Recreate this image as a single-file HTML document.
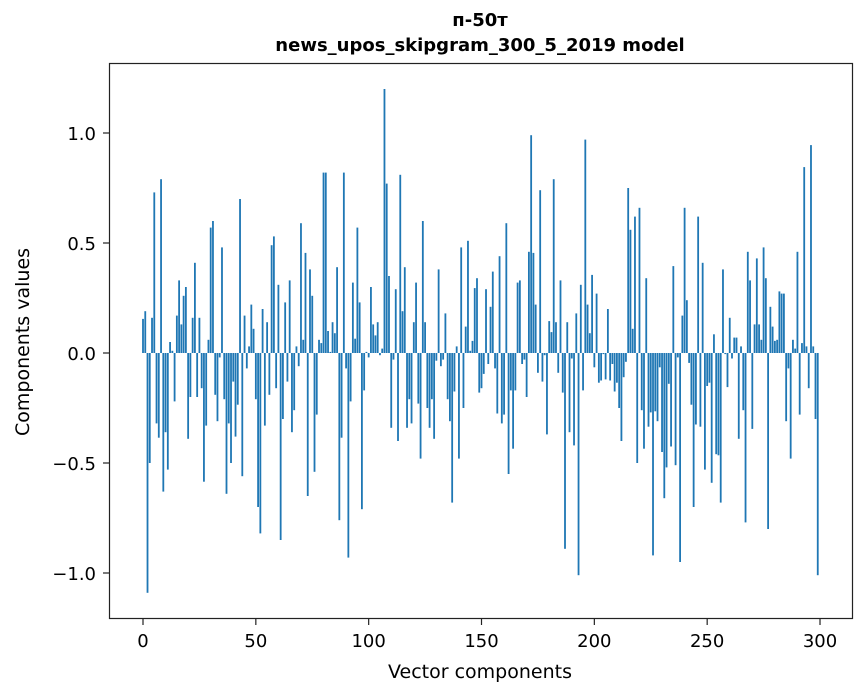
<!DOCTYPE html>
<html><head><meta charset="utf-8"><style>
html,body{margin:0;padding:0;background:#fff;}
svg{display:block;font-family:"DejaVu Sans","Liberation Sans",sans-serif;}
</style></head><body>
<svg id="chart" width="867" height="696" viewBox="0 0 867 696" xmlns="http://www.w3.org/2000/svg">
<rect width="867" height="696" fill="#fff"/>
<text x="480" y="26" font-size="18" font-weight="bold" text-anchor="middle">п-50т</text>
<text x="480" y="51" font-size="18" font-weight="bold" text-anchor="middle">news_upos_skipgram_300_5_2019 model</text>
<g id="bars"></g>
<g id="xticks"></g>
<g id="yticks"></g>
<rect x="109.5" y="63.5" width="743" height="555" fill="none" stroke="#222" stroke-width="1.2"/>
<text x="480" y="678" font-size="19" text-anchor="middle">Vector components</text>
<text transform="translate(29,342) rotate(-90)" font-size="19" text-anchor="middle">Components values</text>
</svg>
<script>
const values = [
0.155,0.19,-1.09,-0.50,0.16,0.73,-0.32,-0.385,0.79,-0.63,
-0.36,-0.53,0.05,0.01,-0.22,0.17,0.33,0.13,0.26,0.30,
-0.39,-0.20,0.16,0.41,-0.20,0.16,-0.16,-0.585,-0.33,0.06,
0.57,0.60,-0.19,-0.31,-0.02,0.48,-0.21,-0.64,-0.32,-0.50,
-0.13,-0.38,-0.235,0.70,-0.56,0.17,-0.07,0.03,0.22,0.11,
-0.21,-0.70,-0.82,0.20,-0.33,0.14,-0.19,0.49,0.53,-0.16,
0.31,-0.85,-0.30,0.23,-0.13,0.33,-0.36,-0.26,0.03,-0.06,
0.59,0.06,0.455,-0.65,0.38,0.26,-0.54,-0.28,0.06,0.045,
0.82,0.82,0.10,0.005,0.14,0.09,0.39,-0.76,-0.385,0.82,
-0.07,-0.93,-0.22,0.32,0.065,0.57,0.23,-0.71,-0.17,0.005,
-0.02,0.30,0.13,0.08,0.14,-0.01,0.02,1.20,0.77,0.35,
-0.34,-0.03,0.29,-0.40,0.81,0.19,0.39,-0.34,-0.21,-0.32,
0.14,0.32,-0.23,-0.48,0.60,0.14,-0.25,-0.34,-0.21,-0.39,
-0.035,0.38,-0.06,-0.03,0.18,-0.21,-0.31,-0.68,-0.175,0.03,
-0.48,0.48,-0.25,0.12,0.51,0.01,0.055,0.295,0.34,-0.18,
-0.16,-0.095,0.29,-0.05,0.21,0.37,-0.07,-0.275,0.44,-0.32,
-0.28,0.59,-0.55,-0.17,-0.435,-0.17,0.32,0.33,-0.05,-0.03,
-0.20,0.46,0.99,0.455,0.22,-0.09,0.74,-0.13,-0.01,-0.37,
0.145,0.095,0.79,0.14,-0.09,0.33,-0.18,-0.89,0.14,-0.36,
-0.025,-0.42,0.18,-1.01,0.31,-0.17,0.97,0.22,0.09,0.355,
-0.065,0.27,-0.135,-0.125,-0.005,-0.12,0.20,-0.125,-0.05,-0.175,
-0.135,-0.25,-0.40,-0.11,-0.04,0.75,0.56,0.11,0.62,-0.50,
0.66,-0.26,-0.435,0.34,-0.335,-0.27,-0.92,-0.265,-0.31,-0.065,
-0.45,-0.66,-0.52,-0.14,-0.425,0.395,-0.51,-0.02,-0.95,0.17,
0.66,0.24,-0.045,-0.235,-0.70,-0.325,0.62,-0.335,0.41,-0.53,
-0.15,-0.135,-0.59,0.085,-0.46,-0.465,-0.68,0.38,-0.005,-0.155,
0.16,-0.025,0.07,0.07,-0.39,0.03,-0.26,-0.77,0.46,0.33,
-0.345,0.13,0.43,0.13,0.06,0.48,0.34,-0.80,0.21,0.12,
0.055,0.06,0.28,0.27,0.27,-0.31,-0.07,-0.48,0.06,0.02,
0.46,-0.28,0.045,0.845,0.03,-0.16,0.945,0.03,-0.30,-1.01
];
const xTicks = [0,50,100,150,200,250,300];
const yTicks = [-1.0,-0.5,0.0,0.5,1.0];
const yTickLabels = ["\u22121.0","\u22120.5","0.0","0.5","1.0"];

const NS = "http://www.w3.org/2000/svg";
function xScale(v){ return 143 + v * 2.2567; }
function yScale(v){ return 353 - v * 220; }
const barW = 0.8 * 2.2567;

const gb = document.getElementById('bars');
values.forEach((v, i) => {
  const r = document.createElementNS(NS, 'rect');
  const y0 = yScale(0), y1 = yScale(v);
  r.setAttribute('x', xScale(i) - barW / 2);
  r.setAttribute('y', Math.min(y0, y1));
  r.setAttribute('width', barW);
  r.setAttribute('height', Math.max(Math.abs(y1 - y0), 0.3));
  r.setAttribute('fill', '#1f77b4');
  
  
  gb.appendChild(r);
});

const gx = document.getElementById('xticks');
xTicks.forEach(t => {
  const x = xScale(t);
  const l = document.createElementNS(NS, 'line');
  l.setAttribute('x1', x); l.setAttribute('x2', x);
  l.setAttribute('y1', 619); l.setAttribute('y2', 625);
  l.setAttribute('stroke', '#222'); l.setAttribute('stroke-width', '1.2');
  
  
  gx.appendChild(l);
  const tx = document.createElementNS(NS, 'text');
  tx.setAttribute('x', x); tx.setAttribute('y', 647);
  tx.setAttribute('font-size', '18'); tx.setAttribute('text-anchor', 'middle');
  tx.textContent = String(t);
  
  
  gx.appendChild(tx);
});

const gy = document.getElementById('yticks');
yTicks.forEach((t, i) => {
  const y = yScale(t);
  const l = document.createElementNS(NS, 'line');
  l.setAttribute('x1', 103); l.setAttribute('x2', 109.5);
  l.setAttribute('y1', y); l.setAttribute('y2', y);
  l.setAttribute('stroke', '#222'); l.setAttribute('stroke-width', '1.2');
  
  
  gy.appendChild(l);
  const tx = document.createElementNS(NS, 'text');
  tx.setAttribute('x', 96); tx.setAttribute('y', y + 7);
  tx.setAttribute('font-size', '18'); tx.setAttribute('text-anchor', 'end');
  tx.textContent = yTickLabels[i];
  
  
  gy.appendChild(tx);
});
</script>
</body></html>
